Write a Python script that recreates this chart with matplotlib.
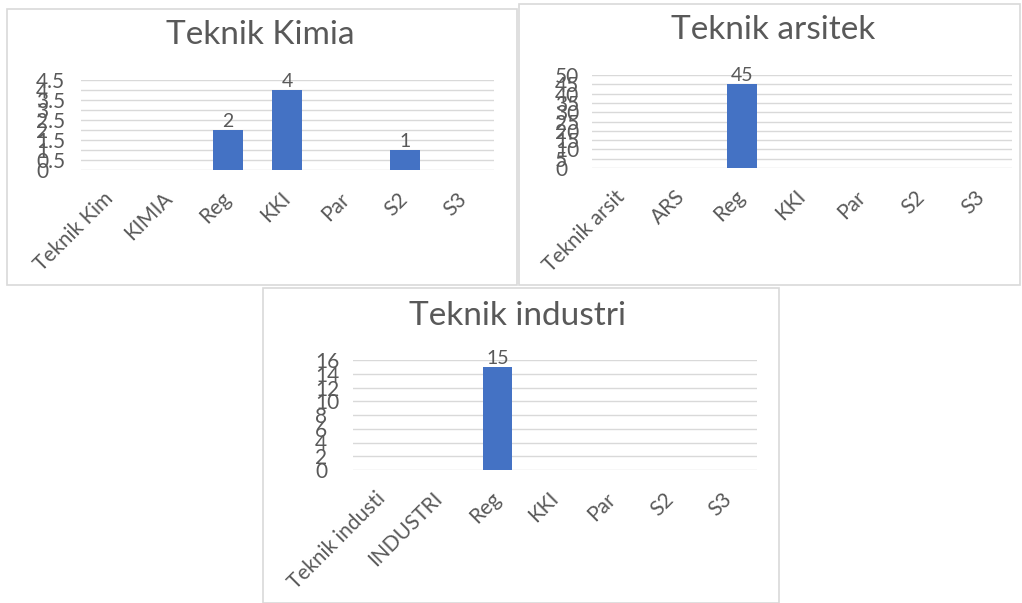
import numpy as np
import matplotlib
matplotlib.use("Agg")
import matplotlib.pyplot as plt
from matplotlib.patches import Rectangle
from matplotlib.transforms import ScaledTranslation

plt.rcParams["font.family"] = ["Lato", "DejaVu Sans"]

W, H = 1022, 603

# data
kimia_cats = ["Teknik Kim", "KIMIA", "Reg", "KKI", "Par", "S2", "S3"]
kimia_vals = [None, None, 2, 4, None, 1, None]
kimia_ticks = [0, 0.5, 1, 1.5, 2, 2.5, 3, 3.5, 4, 4.5]

arsitek_cats = ["Teknik arsit", "ARS", "Reg", "KKI", "Par", "S2", "S3"]
arsitek_vals = [None, None, 45, None, None, None, None]
arsitek_ticks = [0, 5, 10, 15, 20, 25, 30, 35, 40, 45, 50]

industri_cats = ["Teknik industi", "INDUSTRI", "Reg", "KKI", "Par", "S2", "S3"]
industri_vals = [None, None, 15, None, None, None, None]
industri_ticks = [0, 2, 4, 6, 8, 10, 12, 14, 16]

BLUE = "#4472C4"
TXT = "#595959"
GRID = "#d9d9d9"

fig = plt.figure(figsize=(W / 100, H / 100), dpi=100)


def fx(x):
    return x / W


def fy(y):
    return 1 - y / H


def frame(x0, y0, x1, y1):
    fig.patches.append(Rectangle((fx(x0), fy(y1)), fx(x1) - fx(x0), fy(y0) - fy(y1),
                                 transform=fig.transFigure, facecolor="white",
                                 edgecolor=GRID, lw=1.2, zorder=-5))


def chart(box, plot, title, title_xy, cats, vals, ticks, lab_left):
    frame(*box)
    left, top, right, bottom = plot
    ax = fig.add_axes([fx(left), fy(bottom), fx(right) - fx(left), fy(top) - fy(bottom)])
    ax.patch.set_alpha(0)
    x = np.arange(len(cats))
    hv = [v if v is not None else 0 for v in vals]
    bars = ax.bar(x, hv, width=0.5, color=BLUE, zorder=3)
    for b, v in zip(bars, vals):
        if v is not None:
            ax.text(b.get_x() + b.get_width() / 2, v, str(v), ha="center", va="bottom",
                    fontsize=14, color=TXT)
    ax.set_xlim(-0.5, len(cats) - 0.5)
    ax.set_ylim(ticks[0], ticks[-1])
    ax.set_yticks(ticks)
    ax.set_yticklabels([("%g" % t) for t in ticks], fontsize=15, color=TXT, ha="left")
    pad = (left - lab_left) * 72 / 100
    ax.tick_params(axis="y", length=0, pad=pad)
    ax.set_xticks(x)
    ax.set_xticklabels(cats, rotation=45, ha="right", rotation_mode="anchor",
                       fontsize=15, color=TXT)
    ax.tick_params(axis="x", length=0, pad=12)
    shift = ScaledTranslation(-0.07, -0.02, fig.dpi_scale_trans)
    for lab in ax.get_xticklabels():
        lab.set_transform(lab.get_transform() + shift)
    ax.grid(axis="y", color=GRID, lw=1, zorder=0)
    for s in ax.spines.values():
        s.set_visible(False)
    fig.text(fx(title_xy[0]), fy(title_xy[1]), title, ha="center", va="center",
             fontsize=24, color=TXT)
    return ax


chart((7, 9, 517, 285), (80.5, 80, 493.5, 170), "Teknik Kimia", (260, 35),
      kimia_cats, kimia_vals, kimia_ticks, 36)
chart((519, 4, 1020, 285), (592, 75, 1012, 168), "Teknik arsitek", (773, 30),
      arsitek_cats, arsitek_vals, arsitek_ticks, 555)
chart((263, 288, 779, 603), (353, 360, 757, 470), "Teknik industri", (517, 316),
      industri_cats, industri_vals, industri_ticks, 315)

fig.savefig("out.png", dpi=100)
